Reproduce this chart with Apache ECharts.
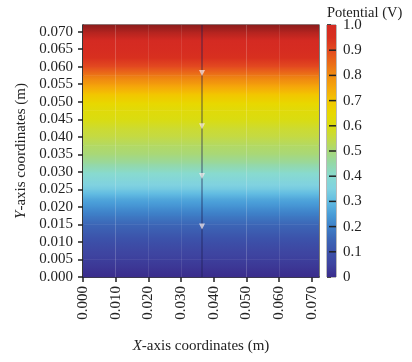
<!DOCTYPE html>
<html><head><meta charset="utf-8">
<script src="https://cdn.jsdelivr.net/npm/echarts@6/dist/echarts.min.js"></script>
<style>html,body{margin:0;padding:0;background:#fff}#c{width:412px;height:362px}</style>
</head><body><div id="c"></div>
<script>
// ---- data ----
const yLevels = [0, 0.0025, 0.005, 0.0075, 0.010, 0.0125, 0.015, 0.0175, 0.020, 0.0225,
  0.025, 0.0275, 0.030, 0.0325, 0.035, 0.0375, 0.040, 0.0425, 0.045, 0.0475,
  0.050, 0.0525, 0.055, 0.0575, 0.060, 0.0625, 0.065, 0.0675, 0.070, 0.0719];
const potential = [0.00, 0.02, 0.04, 0.06, 0.09, 0.12, 0.15, 0.19, 0.23, 0.27,
  0.33, 0.37, 0.41, 0.46, 0.50, 0.52, 0.55, 0.57, 0.60, 0.62,
  0.66, 0.71, 0.77, 0.83, 0.90, 0.95, 0.98, 1.00, 1.02, 1.04];
const xTicks = [0, 0.01, 0.02, 0.03, 0.04, 0.05, 0.06, 0.07];
const yTicks = [0, 0.005, 0.010, 0.015, 0.020, 0.025, 0.030, 0.035, 0.040, 0.045, 0.050, 0.055, 0.060, 0.065, 0.070];
const cbTicks = [0, 0.1, 0.2, 0.3, 0.4, 0.5, 0.6, 0.7, 0.8, 0.9, 1.0];
const stripeX = [0.0088, 0.0134, 0.018, 0.0272, 0.0455, 0.0547, 0.0639];
const streamX = 0.0364;
const arrowY = [0.0582, 0.043, 0.0288, 0.0144];
const X_MIN = 0, X_MAX = 0.0722, Y_MIN = 0, Y_MAX = 0.0719;

// ---- colormap (style) ----
const cmapStops = [
  [0.00, '#3a2c8c'], [0.05, '#3e44a0'], [0.10, '#3c52aa'], [0.15, '#3c66b6'],
  [0.20, '#3e80c8'], [0.25, '#4a9ed8'], [0.30, '#62bce2'], [0.35, '#80d2e0'],
  [0.40, '#88dad0'], [0.45, '#94d8a8'], [0.50, '#a8d878'], [0.55, '#c4da44'],
  [0.60, '#dadc10'], [0.65, '#e8d800'], [0.70, '#f2c600'], [0.75, '#f5a80a'],
  [0.80, '#f08c10'], [0.85, '#ea6a18'], [0.90, '#e34a20'], [0.95, '#d8301f'],
  [1.00, '#d42a22'], [1.04, '#8c1c1c']
];
function hex(c){return [parseInt(c.slice(1,3),16),parseInt(c.slice(3,5),16),parseInt(c.slice(5,7),16)];}
function cmap(v){
  if (v <= cmapStops[0][0]) return cmapStops[0][1];
  for (let i = 1; i < cmapStops.length; i++) {
    if (v <= cmapStops[i][0]) {
      const a = cmapStops[i-1], b = cmapStops[i];
      const t = (v - a[0]) / (b[0] - a[0]);
      const ca = hex(a[1]), cb = hex(b[1]);
      return 'rgb(' + ca.map((x,k)=>Math.round(x + (cb[k]-x)*t)).join(',') + ')';
    }
  }
  return cmapStops[cmapStops.length-1][1];
}
function gradStops(p0, p1){ // offset 0 = top (p1), offset 1 = bottom (p0)
  const s = [{offset:0, color:cmap(p1)}];
  const lo = Math.min(p0,p1), hi = Math.max(p0,p1);
  cmapStops.forEach(function(st){
    if (st[0] > lo && st[0] < hi) s.push({offset:(p1 - st[0])/(p1 - p0), color:st[1]});
  });
  s.push({offset:1, color:cmap(p0)});
  s.sort((a,b)=>a.offset-b.offset);
  return s;
}

const bands = [];
for (let i = 0; i < yLevels.length - 1; i++) bands.push([yLevels[i], yLevels[i+1], potential[i], potential[i+1]]);

const FONT = 'Liberation Serif';
const TXT = {fontFamily: FONT, fontSize: 15, color: '#222'};

const chart = echarts.init(document.getElementById('c'), null, {renderer: 'canvas'});
chart.setOption({
  animation: false,
  backgroundColor: '#fff',
  title: {text: 'Potential (V)', left: 322, top: 1, textStyle: Object.assign({fontWeight: 'normal'}, TXT, {fontSize: 14.5})},
  grid: [
    {left: 83, top: 25, width: 236, height: 252, show: true, borderColor: '#222', borderWidth: 1.2, backgroundColor: 'transparent'},
    {left: 327, top: 25, width: 9, height: 252, show: true, borderColor: '#777', borderWidth: 1, backgroundColor: 'transparent'}
  ],
  xAxis: [
    {type: 'value', gridIndex: 0, min: X_MIN, max: X_MAX,
      name: '{i|X}-axis coordinates (m)', nameLocation: 'middle', nameGap: 62,
      nameTextStyle: Object.assign({rich: {i: Object.assign({fontStyle: 'italic'}, TXT)}}, TXT),
      axisLine: {show: true, lineStyle: {color: '#222', width: 1.5}},
      axisTick: {show: true, length: 5, lineStyle: {color: '#222', width: 1.5}, customValues: xTicks},
      axisLabel: Object.assign({rotate: 90, margin: 9, customValues: xTicks, formatter: v => v.toFixed(3)}, TXT),
      splitLine: {show: false}},
    {type: 'value', gridIndex: 1, min: 0, max: 1, show: false, splitLine: {show: false}}
  ],
  yAxis: [
    {type: 'value', gridIndex: 0, min: Y_MIN, max: Y_MAX,
      name: '{i|Y}-axis coordinates (m)', nameLocation: 'middle', nameGap: 54,
      nameTextStyle: Object.assign({rich: {i: Object.assign({fontStyle: 'italic'}, TXT)}}, TXT),
      axisLine: {show: true, lineStyle: {color: '#222', width: 1.5}},
      axisTick: {show: true, length: 5, lineStyle: {color: '#222', width: 1.5}, customValues: yTicks},
      axisLabel: Object.assign({margin: 10, customValues: yTicks, formatter: v => v.toFixed(3)}, TXT),
      splitLine: {show: false}},
    {type: 'value', gridIndex: 1, min: 0, max: 1, position: 'right',
      axisLine: {show: false},
      axisTick: {show: true, length: 4, lineStyle: {color: '#222', width: 1.5}, customValues: cbTicks},
      axisLabel: Object.assign({margin: 7, customValues: cbTicks, formatter: v => (v === 0 ? '0' : v.toFixed(1))}, TXT),
      splitLine: {show: false}}
  ],
  series: [
    {type: 'custom', xAxisIndex: 0, yAxisIndex: 0, silent: true, z: 1,
      data: bands, encode: {x: [], y: [0, 1]},
      renderItem: function(params, api){
        const y0 = api.value(0), y1 = api.value(1), p0 = api.value(2), p1 = api.value(3);
        const tl = api.coord([X_MIN, y1]), br = api.coord([X_MAX, y0]);
        return {type: 'rect', shape: {x: tl[0], y: tl[1] - 0.3, width: br[0] - tl[0], height: br[1] - tl[1] + 0.6},
          style: {fill: new echarts.graphic.LinearGradient(0, 0, 0, 1, gradStops(p0, p1))}};
      }},
    {type: 'line', xAxisIndex: 0, yAxisIndex: 0, silent: true, z: 2, symbol: 'none',
      data: [[streamX, Y_MAX], [streamX, Y_MIN]],
      lineStyle: {color: 'rgba(30,30,80,0.35)', width: 2},
      markLine: {silent: true, symbol: 'none', label: {show: false},
        lineStyle: {color: 'rgba(255,255,255,0.1)', width: 1, type: 'solid'},
        data: stripeX.map(x => ({xAxis: x}))}},
    {type: 'scatter', xAxisIndex: 0, yAxisIndex: 0, silent: true, z: 3,
      symbol: 'triangle', symbolRotate: 180, symbolSize: [6, 6],
      itemStyle: {color: 'rgba(250,236,236,0.9)'},
      data: arrowY.map(y => [streamX, y])},
    {type: 'custom', xAxisIndex: 1, yAxisIndex: 1, silent: true, z: 1,
      data: [[0, 1]],
      renderItem: function(params, api){
        const tl = api.coord([0, 1]), br = api.coord([1, 0]);
        const stops = cmapStops.filter(s => s[0] <= 1).map(s => ({offset: 1 - s[0], color: s[1]})).sort((a,b)=>a.offset-b.offset);
        const ch = [{type: 'rect', shape: {x: tl[0], y: tl[1], width: br[0]-tl[0], height: br[1]-tl[1]},
          style: {fill: new echarts.graphic.LinearGradient(0, 0, 0, 1, stops)}}];
        cbTicks.forEach(function(t){
          if (t > 0 && t < 1) {
            const p = api.coord([0, t]);
            ch.push({type: 'line', shape: {x1: tl[0] + 2, y1: p[1], x2: br[0], y2: p[1]}, style: {stroke: '#222', lineWidth: 1.5}});
          }
        });
        return {type: 'group', children: ch};
      }}
  ]
});
</script></body></html>
